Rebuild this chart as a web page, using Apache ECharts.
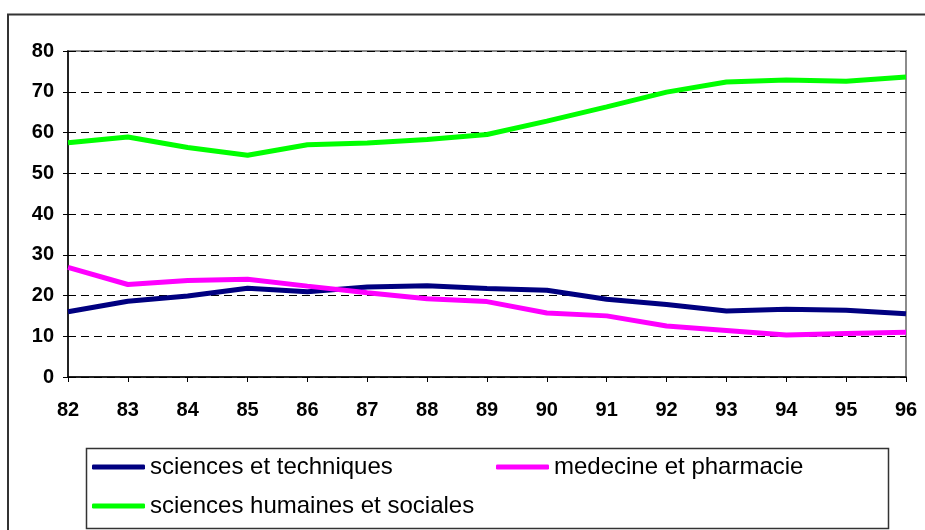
<!DOCTYPE html>
<html><head><meta charset="utf-8">
<script src="https://cdn.jsdelivr.net/npm/echarts@6/dist/echarts.min.js"></script>
<style>html,body{margin:0;padding:0;background:#fff}#c{width:925px;height:530px}</style>
</head><body><div id="c"></div>
<script>
var years = ['82','83','84','85','86','87','88','89','90','91','92','93','94','95','96'];
var sciencesTech = [16.0,18.6,19.9,21.8,20.9,22.1,22.4,21.7,21.3,19.1,17.8,16.2,16.6,16.4,15.5];
var medecine = [26.9,22.7,23.7,24.0,22.3,20.7,19.2,18.5,15.7,15.0,12.5,11.4,10.3,10.7,11.0];
var humaines = [57.5,58.9,56.3,54.4,57.0,57.4,58.3,59.5,62.8,66.3,69.9,72.4,72.9,72.6,73.6];
var yTicks = [0,80,10];

var chart = echarts.init(document.getElementById('c'), null, {renderer:'canvas'});
var font = 'Liberation Sans, Arial, sans-serif';
function leg(name, left, top) {
  return {
    data:[name], left:left, top:top, orient:'horizontal', icon:'roundRect',
    itemWidth:53, itemHeight:5, itemGap:0, padding:0,
    textStyle:{fontFamily:font, fontSize:24, color:'#000', padding:[0,0,0,0]}
  };
}
chart.setOption({
  animation:false,
  backgroundColor:'#fff',
  graphic:[
    {type:'rect', shape:{x:8,y:14.5,width:1000,height:1000}, style:{fill:'none', stroke:'#333', lineWidth:2}},
    {type:'rect', shape:{x:86.5,y:448.5,width:802,height:80}, style:{fill:'none', stroke:'#333', lineWidth:1.5}}
  ],
  grid:{left:68, right:19, top:51, bottom:153, show:true, borderColor:'#8c8c8c', borderWidth:2, backgroundColor:'transparent'},
  legend:[leg('sciences et techniques',92,455), leg('medecine et pharmacie',496,455), leg('sciences humaines et sociales',92,494)],
  xAxis:{type:'category', data:years, boundaryGap:false,
    axisLine:{lineStyle:{color:'#000', width:1.5}},
    axisTick:{show:true, alignWithLabel:true, length:5, lineStyle:{color:'#000'}},
    axisLabel:{fontFamily:font, fontWeight:'bold', fontSize:20, color:'#000', margin:23},
    splitLine:{show:false}},
  yAxis:{type:'value', min:yTicks[0], max:yTicks[1], interval:yTicks[2],
    axisLine:{show:true, lineStyle:{color:'#000', width:1.5}},
    axisTick:{show:true, length:5, lineStyle:{color:'#000'}},
    axisLabel:{fontFamily:font, fontWeight:'bold', fontSize:20, color:'#000', margin:14},
    splitLine:{show:true, lineStyle:{color:'#000', type:[8,5], width:1}}},
  series:[
    {name:'sciences et techniques', type:'line', data:sciencesTech, symbol:'none', lineStyle:{color:'#000080', width:5}, itemStyle:{color:'#000080'}},
    {name:'medecine et pharmacie', type:'line', data:medecine, symbol:'none', lineStyle:{color:'#ff00ff', width:5}, itemStyle:{color:'#ff00ff'}},
    {name:'sciences humaines et sociales', type:'line', data:humaines, symbol:'none', lineStyle:{color:'#00ff00', width:5}, itemStyle:{color:'#00ff00'}}
  ]
});
</script></body></html>
